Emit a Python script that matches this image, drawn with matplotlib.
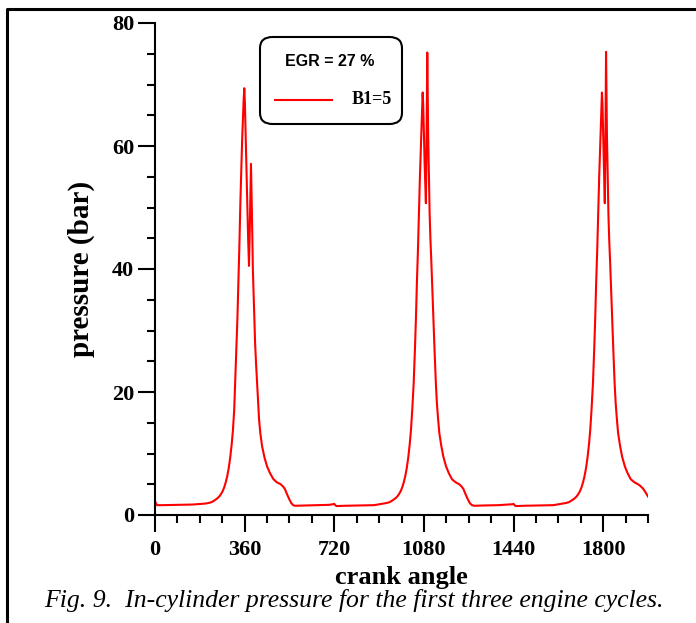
import numpy as np
import matplotlib
matplotlib.use("Agg")
import matplotlib.pyplot as plt
from matplotlib.patches import FancyBboxPatch
from matplotlib.lines import Line2D
from matplotlib.ticker import MultipleLocator

# crank angle (deg) and in-cylinder pressure (bar)
cycle1_angle = [0, 8, 30, 90, 150, 200, 215, 228, 240, 250, 258, 265, 272, 278, 284,
                290, 296, 302, 308, 313, 318, 322, 327, 331, 335, 339, 343, 347, 350,
                353, 356, 358.6, 361, 365, 370, 374, 377.5, 380, 383, 385.5, 388, 391,
                393, 396, 399, 402, 406, 410, 414, 418, 423, 430, 440, 450, 462, 476,
                490, 505, 515, 522, 530, 540, 548, 555, 562, 600, 650, 700, 715, 720,
                725, 730]
cycle1_press = [2.2, 1.6, 1.6, 1.65, 1.7, 1.85, 1.95, 2.1, 2.4, 2.7, 3.0, 3.4, 3.9, 4.5, 5.3,
                6.3, 7.6, 9.3, 11.5, 13.8, 17, 21.5, 27, 32, 38, 44, 51, 57, 61,
                64.5, 67.5, 69.4, 67, 60, 52, 45, 40.5, 45, 52, 57.1, 52, 45,
                40, 36, 32, 28, 24.5, 21.4, 18, 15.5, 13.3, 11.2, 9.3, 7.9, 6.8, 5.8,
                5.3, 5.0, 4.6, 4.2, 3.4, 2.5, 1.9, 1.6, 1.5, 1.55, 1.6, 1.65, 1.75, 1.8,
                1.55, 1.45]

cycle2_angle = [760, 820, 880, 915, 930, 943, 955, 965, 973, 980, 987, 993, 999, 1005,
                1011, 1017, 1023, 1028, 1033, 1039, 1044, 1048, 1052, 1056, 1060,
                1064, 1068, 1071, 1073, 1075, 1077, 1080, 1083, 1086, 1088, 1090,
                1092, 1093.5, 1095, 1097, 1100, 1103, 1106, 1110, 1114, 1118, 1123,
                1128, 1132, 1137, 1142, 1150, 1158, 1169, 1180, 1193, 1208, 1222,
                1232, 1239, 1247, 1257, 1265, 1273, 1283, 1320, 1380, 1420, 1435,
                1440, 1445, 1450]
cycle2_press = [1.5, 1.55, 1.6, 1.85, 1.95, 2.1, 2.4, 2.7, 3.0, 3.4, 3.9, 4.5, 5.3, 6.3,
                7.6, 9.3, 11.5, 13.8, 17, 21.5, 27, 32, 38, 43, 49,
                55, 60, 64, 66.5, 68.7, 67, 62, 57, 53, 50.7, 58,
                68, 75.2, 70, 62, 55, 49, 45, 41, 36.5, 32.2, 26.5,
                21.4, 18.3, 15.6, 13.3, 11.2, 9.5, 7.9, 6.8, 5.8, 5.3, 5.0,
                4.6, 4.2, 3.4, 2.5, 1.9, 1.6, 1.5, 1.55, 1.6, 1.7, 1.75,
                1.8, 1.55, 1.45]

cycle3_angle = [1480, 1540, 1600, 1635, 1650, 1663, 1675, 1685, 1693, 1700, 1707, 1713,
                1719, 1725, 1731, 1737, 1743, 1748, 1753, 1759, 1764, 1768, 1772,
                1776, 1780, 1784, 1788, 1791, 1793, 1795, 1797, 1800, 1803, 1805,
                1806.5, 1808.5, 1810, 1811.5, 1813, 1815, 1818, 1821, 1824, 1828,
                1832, 1836, 1841, 1846, 1850, 1855, 1860, 1868, 1876, 1887, 1898,
                1911, 1926, 1940, 1950, 1960, 1970, 1980]
cycle3_press = [1.5, 1.55, 1.6, 1.85, 1.95, 2.1, 2.4, 2.7, 3.0, 3.4, 3.9, 4.5,
                5.3, 6.3, 7.6, 9.3, 11.5, 13.8, 17, 21.5, 27, 32, 38,
                43, 49, 55, 60, 64, 66.5, 68.7, 67, 62, 57, 53,
                50.7, 58, 68, 75.3, 70, 62, 55, 49, 45, 41,
                36.5, 32.2, 26.5, 21.4, 18.3, 15.6, 13.3, 11.2, 9.5, 7.9, 6.8,
                5.8, 5.3, 5.0, 4.7, 4.3, 3.7, 3.0]

angle = cycle1_angle + cycle2_angle + cycle3_angle
pressure = cycle1_press + cycle2_press + cycle3_press

x_major = [0, 360, 720, 1080, 1440, 1800]
y_major = [0, 20, 40, 60, 80]

serif = "Liberation Serif"

fig = plt.figure(figsize=(6.96, 6.23), dpi=100)
ax = fig.add_axes([155 / 696, 108 / 623, 493 / 696, 492 / 623])

ax.plot(angle, pressure, color="red", lw=1.5, label="B1=5")

ax.set_xlim(0, 1980)
ax.set_ylim(0, 80)
ax.set_xticks(x_major)
ax.set_yticks(y_major)
ax.xaxis.set_minor_locator(MultipleLocator(90))
ax.yaxis.set_minor_locator(MultipleLocator(5))

for s in ["top", "right"]:
    ax.spines[s].set_visible(False)
for s in ["left", "bottom"]:
    ax.spines[s].set_linewidth(1.5)

ax.tick_params(axis="x", which="major", direction="out", length=12, width=1.5, pad=6)
ax.tick_params(axis="y", which="major", direction="out", length=12, width=1.5, pad=3)
ax.tick_params(which="minor", direction="out", length=6, width=1.5)
for lab in ax.get_xticklabels() + ax.get_yticklabels():
    lab.set_fontfamily(serif)
    lab.set_fontweight("bold")
    lab.set_fontsize(16)

ax.set_xlabel("crank angle", fontfamily=serif, fontweight="bold", fontsize=19, labelpad=4)
ax.set_ylabel("pressure (bar)", fontfamily=serif, fontweight="bold", fontsize=21, labelpad=12)

# legend box
box = FancyBboxPatch((260 / 696, 1 - 124 / 623), 142 / 696, 87 / 623,
                     boxstyle="round,pad=0,rounding_size=0.018",
                     transform=fig.transFigure, fill=False, lw=1.5, ec="black")
fig.patches.append(box)
fig.text(330 / 696, 1 - 62 / 623, "EGR = 27 %", ha="center", va="center",
         fontfamily="Liberation Sans", fontweight="bold", fontsize=11.5)
fig.lines.append(Line2D([275 / 696, 332 / 696], [1 - 100 / 623, 1 - 100 / 623],
                        transform=fig.transFigure, color="red", lw=1.5))
fig.text(352 / 696, 1 - 100 / 623, "B1=5", ha="left", va="center",
         fontfamily=serif, fontweight="bold", fontsize=13)

# page frame
fig.lines.append(Line2D([7 / 696, 7 / 696, 1.0], [-0.05, 1 - 9 / 623, 1 - 9 / 623],
                        transform=fig.transFigure, color="black", lw=2.2))

fig.text(354 / 696, 1 - 601 / 623,
         "Fig. 9.  In-cylinder pressure for the first three engine cycles.",
         ha="center", va="center", fontfamily=serif, fontstyle="italic", fontsize=18.5)

fig.savefig("out.png", dpi=100)
